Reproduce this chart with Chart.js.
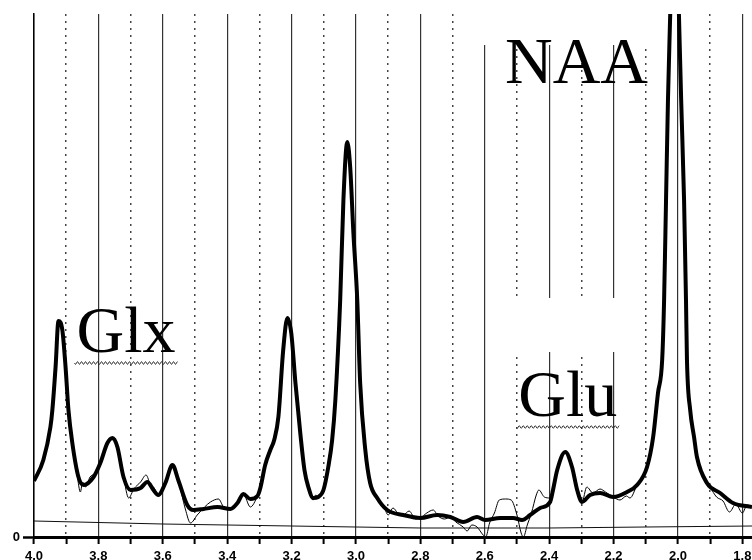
<!DOCTYPE html>
<html>
<head>
<meta charset="utf-8">
<script src="https://cdn.jsdelivr.net/npm/chart.js@4.4.0/dist/chart.umd.min.js"></script>
<style>
  html, body { margin: 0; padding: 0; background: #fff; overflow: hidden; }
  #wrap { width: 752px; height: 575px; }
</style>
</head>
<body>
<div id="wrap"><canvas id="spectrum" width="752" height="575"></canvas></div>
<script>
// Fitted spectrum: chemical shift (ppm) and amplitude (a.u.)
const fitPpm = [
  4.000, 3.971, 3.949, 3.943, 3.933, 3.924, 3.912, 3.902, 3.893, 3.881,
  3.862, 3.846, 3.815, 3.794, 3.772, 3.756, 3.741, 3.722, 3.700, 3.669,
  3.648, 3.629, 3.614, 3.592, 3.570, 3.552, 3.524, 3.505, 3.474, 3.430,
  3.390, 3.368, 3.350, 3.328, 3.306, 3.297, 3.282, 3.266, 3.254, 3.241,
  3.226, 3.213, 3.201, 3.188, 3.173, 3.160, 3.148, 3.133, 3.117, 3.101,
  3.086, 3.074, 3.064, 3.049, 3.039, 3.027, 3.018, 3.008, 2.996, 2.987,
  2.971, 2.956, 2.934, 2.903, 2.853, 2.800, 2.748, 2.707, 2.667, 2.624,
  2.599, 2.552, 2.512, 2.484, 2.459, 2.428, 2.397, 2.388, 2.375, 2.350,
  2.329, 2.313, 2.298, 2.273, 2.242, 2.201, 2.158, 2.127, 2.096, 2.077,
  2.062, 2.049, 2.043, 2.037, 2.031, 2.024, 2.018, 2.011, 2.003, 1.997,
  1.990, 1.981, 1.975, 1.972, 1.962, 1.950, 1.941, 1.910, 1.869, 1.829,
  1.770
];
const fitAmp = [
  56, 77, 110, 127, 170, 216, 207, 170, 127, 94,
  60, 52, 60, 74, 94, 99, 90, 60, 47, 49,
  55, 47, 42, 54, 72, 57, 32, 27, 28, 30,
  28, 34, 43, 38, 41, 49, 72, 87, 97, 120,
  187, 219, 204, 154, 104, 67, 50, 39, 40, 47,
  70, 97, 137, 237, 337, 395, 370, 304, 237, 154,
  87, 54, 39, 27, 22, 19, 22, 20, 15, 20,
  17, 19, 19, 17, 22, 29, 35, 47, 67, 85,
  70, 47, 35, 42, 44, 40, 45, 52, 70, 100,
  144, 177, 237, 337, 437, 523, 597, 650, 597, 523,
  437, 337, 237, 177, 127, 100, 80, 54, 44, 34,
  30
];

// Raw (unfitted) spectrum
const rawPpm = [
  4.000, 3.971, 3.949, 3.943, 3.933, 3.924, 3.912, 3.902, 3.893, 3.881,
  3.866, 3.856, 3.849, 3.840, 3.826, 3.810, 3.794, 3.772, 3.756, 3.741,
  3.722, 3.706, 3.690, 3.669, 3.652, 3.638, 3.629, 3.614, 3.592, 3.570,
  3.552, 3.530, 3.514, 3.493, 3.470, 3.452, 3.427, 3.411, 3.390, 3.368,
  3.350, 3.328, 3.306, 3.297, 3.282, 3.266, 3.254, 3.241, 3.226, 3.213,
  3.201, 3.188, 3.173, 3.160, 3.148, 3.133, 3.125, 3.117, 3.101, 3.086,
  3.074, 3.064, 3.049, 3.039, 3.027, 3.018, 3.008, 2.996, 2.987, 2.971,
  2.956, 2.934, 2.915, 2.900, 2.885, 2.870, 2.853, 2.835, 2.815, 2.800,
  2.780, 2.760, 2.745, 2.725, 2.707, 2.690, 2.667, 2.655, 2.640, 2.624,
  2.605, 2.597, 2.585, 2.570, 2.555, 2.535, 2.518, 2.500, 2.487, 2.480,
  2.468, 2.455, 2.440, 2.432, 2.415, 2.397, 2.388, 2.375, 2.350, 2.329,
  2.313, 2.298, 2.283, 2.264, 2.242, 2.225, 2.201, 2.180, 2.160, 2.149,
  2.127, 2.096, 2.077, 2.062, 2.049, 2.043, 2.037, 2.031, 2.024, 2.018,
  2.011, 2.003, 1.997, 1.990, 1.981, 1.975, 1.972, 1.962, 1.950, 1.941,
  1.920, 1.900, 1.880, 1.860, 1.840, 1.820, 1.800, 1.785, 1.770
];
const rawAmp = [
  56, 77, 110, 127, 170, 216, 207, 170, 127, 94,
  62, 45, 55, 50, 60, 64, 74, 94, 99, 90,
  60, 39, 48, 55, 62, 52, 50, 43, 54, 72,
  57, 28, 14, 22, 30, 35, 38, 30, 28, 34,
  43, 30, 41, 49, 72, 87, 97, 120, 187, 219,
  204, 154, 104, 67, 50, 37, 42, 40, 47, 70,
  97, 137, 237, 337, 395, 370, 304, 237, 154, 87,
  54, 39, 32, 22, 29, 24, 22, 26, 18, 19,
  24, 27, 21, 18, 20, 15, 10, 6, 12, 10,
  2, 0, 14, 24, 37, 38, 37, 22, 4, 0,
  12, 24, 42, 47, 40, 39, 47, 67, 85, 70,
  47, 35, 50, 44, 48, 45, 40, 37, 41, 39,
  52, 70, 100, 144, 177, 237, 337, 437, 523, 597,
  650, 597, 523, 437, 337, 237, 177, 127, 100, 80,
  62, 50, 40, 36, 25, 33, 24, 32, 30
];

// Baseline estimate under the spectrum
const basePpm = [4.0, 3.6, 3.2, 2.8, 2.4, 2.1, 1.77];
const baseAmp = [16, 13, 11, 9, 9, 10, 11];

const tickLabels = ['4.0', '3.8', '3.6', '3.4', '3.2', '3.0', '2.8', '2.6', '2.4', '2.2', '2.0', '1.8'];
const peakNames = ['NAA', 'Glx', 'Glu'];

const toPoints = (xs, ys) => xs.map((x, i) => ({ x, y: ys[i] }));
const isMajor = v => Math.round(v * 10) % 2 === 0;
const noSidePadding = s => { s.paddingLeft = 0; s.paddingRight = 0; };

// white boxes behind the metabolite names, then the names with wavy underlines
const peakLabelPlugin = {
  id: 'peakLabels',
  beforeDatasetsDraw(chart) {
    const c = chart.ctx;
    c.save();
    c.fillStyle = '#fff';
    c.fillRect(480, chart.chartArea.top, 182, 31);
    c.fillRect(502, 298, 126, 54);
    c.restore();
  },
  afterDatasetsDraw(chart) {
    const c = chart.ctx;
    const xs = chart.scales.x, ys = chart.scales.y;
    const spots = [
      { ppm: 2.537, amp: 454, wave: false },
      { ppm: 3.868, amp: 185, wave: true },
      { ppm: 2.496, amp: 121, wave: true }
    ];
    c.save();
    c.fillStyle = '#000';
    c.font = '66px "Liberation Serif", "Times New Roman", serif';
    c.textBaseline = 'alphabetic';
    spots.forEach((s, i) => {
      const x = xs.getPixelForValue(s.ppm);
      const y = ys.getPixelForValue(s.amp);
      c.fillText(peakNames[i], x, y);
      if (s.wave) {
        const w = c.measureText(peakNames[i]).width + 4;
        c.beginPath();
        c.strokeStyle = '#333';
        c.lineWidth = 1;
        for (let k = 0; k <= w; k += 0.5) {
          const yy = y + 11 + 1.3 * Math.sin(k * Math.PI / 2);
          if (k === 0) c.moveTo(x - 2 + k, yy); else c.lineTo(x - 2 + k, yy);
        }
        c.stroke();
      }
    });
    c.restore();
  }
};

const ctx = document.getElementById('spectrum').getContext('2d');
new Chart(ctx, {
  type: 'line',
  data: {
    datasets: [
      {
        label: 'baseline',
        data: toPoints(basePpm, baseAmp),
        borderColor: '#111',
        borderWidth: 1.2,
        pointRadius: 0,
        tension: 0
      },
      {
        label: 'raw',
        data: toPoints(rawPpm, rawAmp),
        borderColor: '#000',
        borderWidth: 1,
        pointRadius: 0,
        cubicInterpolationMode: 'monotone'
      },
      {
        label: 'fit',
        data: toPoints(fitPpm, fitAmp),
        borderColor: '#000',
        borderWidth: 4,
        pointRadius: 0,
        cubicInterpolationMode: 'monotone'
      }
    ]
  },
  options: {
    responsive: false,
    animation: false,
    layout: { padding: { top: 14, left: 0, right: 0, bottom: 0 } },
    plugins: {
      legend: { display: false },
      tooltip: { enabled: false }
    },
    scales: {
      x: {
        type: 'linear',
        reverse: true,
        min: 1.77,
        max: 4.0,
        afterFit: s => { s.height = 38; noSidePadding(s); },
        ticks: {
          stepSize: 0.1,
          includeBounds: false,
          autoSkip: false,
          maxRotation: 0,
          padding: 5,
          color: '#000',
          font: { family: '"Liberation Sans", Arial, sans-serif', weight: 'bold', size: 13 },
          callback: v => {
            const label = v.toFixed(1);
            return tickLabels.includes(label) ? label : '';
          }
        },
        grid: {
          // solid lines every 0.2 ppm; the dotted ones come from x2
          color: c => isMajor(c.tick.value) ? '#333' : 'rgba(0,0,0,0)',
          lineWidth: 1.2,
          tickColor: '#000',
          tickWidth: 2,
          tickLength: 7
        },
        border: { color: '#000', width: 3, dash: [] }
      },
      x2: {
        type: 'linear',
        position: 'top',
        reverse: true,
        min: 1.77,
        max: 4.0,
        afterFit: s => { s.height = 0; noSidePadding(s); },
        ticks: { display: false, stepSize: 0.1, includeBounds: false, autoSkip: false },
        grid: {
          color: c => isMajor(c.tick.value) ? 'rgba(0,0,0,0)' : '#444',
          lineWidth: 1.5,
          drawTicks: false
        },
        border: { display: false, dash: [2, 5] }
      },
      y: {
        min: 0,
        max: 523,
        afterFit: s => { s.width = 34; },
        afterBuildTicks: s => { s.ticks = s.ticks.filter(t => t.value === 0); },
        ticks: {
          stepSize: 1000,
          color: '#000',
          padding: 3,
          font: { family: '"Liberation Sans", Arial, sans-serif', weight: 'bold', size: 13 },
          callback: v => (v === 0 ? '0' : '')
        },
        grid: {
          drawOnChartArea: false,
          tickColor: '#000',
          tickWidth: 2.5,
          tickLength: 11
        },
        border: { color: '#000', width: 1.5 }
      }
    }
  },
  plugins: [peakLabelPlugin]
});
</script>
</body>
</html>
